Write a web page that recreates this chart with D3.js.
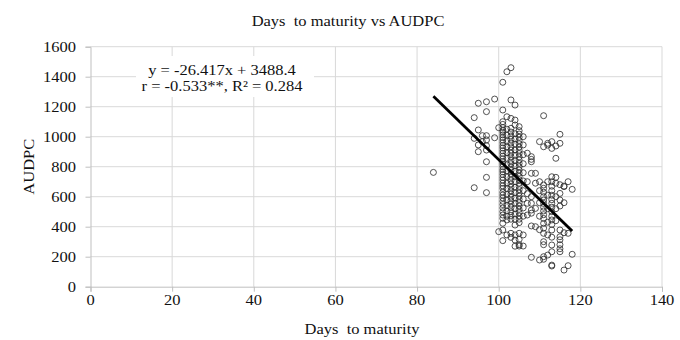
<!DOCTYPE html>
<html>
<head>
<meta charset="utf-8">
<script src="https://cdn.jsdelivr.net/npm/d3@7"></script>
<style>
  body { margin: 0; background: #fff; }
  text { font-family: "Liberation Serif", "Times New Roman", serif; fill: #111; }
</style>
</head>
<body>
<svg id="chart" width="680" height="340"></svg>
<script>
// data: days to maturity and the AUDPC values seen at each day
var maturityDays = [84, 94, 95, 96, 97, 99, 100, 101, 102, 103, 104, 105, 106, 107, 108, 109, 110, 111, 112, 113, 114, 115, 116, 117, 118]
var audpcByDay = [
  [762],
  [1127, 989, 660],
  [1223, 1045, 945, 900],
  [1007, 967],
  [1233, 1167, 1007, 978, 940, 911, 833, 729, 627],
  [1251, 993],
  [1060, 367],
  [1363, 1178, 1100, 1082, 1061, 1043, 1030, 1012, 995, 978, 960, 941, 925, 906, 889, 870, 852, 834, 818, 800, 781, 766, 748, 729, 711, 690, 672, 655, 630, 611, 592, 570, 548, 525, 500, 478, 456, 423, 378, 307],
  [1433, 1133, 1050, 1010, 972, 930, 895, 856, 812, 770, 735, 690, 655, 615, 580, 540, 505, 470, 445, 345],
  [1460, 1245, 1122, 1056, 1031, 1005, 982, 958, 933, 911, 890, 866, 842, 820, 797, 775, 752, 730, 707, 685, 663, 640, 618, 596, 573, 550, 528, 500, 475, 450, 356, 329],
  [1211, 1111, 1078, 1020, 985, 950, 912, 876, 840, 806, 770, 735, 700, 662, 628, 590, 556, 520, 485, 450, 411, 345, 311, 270],
  [1067, 1040, 1018, 996, 975, 953, 931, 910, 888, 866, 845, 822, 800, 778, 757, 735, 713, 690, 669, 647, 625, 603, 582, 560, 538, 516, 494, 472, 450, 427, 356, 315, 280, 271],
  [1000, 945, 880, 820, 760, 705, 640, 585, 525, 470, 345, 271],
  [890, 700, 620, 556, 478],
  [867, 849, 833, 756, 600, 556, 511, 490, 405, 196],
  [756, 690, 522, 400],
  [967, 700, 640, 560, 470, 380, 178],
  [1140, 933, 678, 656, 630, 600, 578, 555, 530, 505, 480, 455, 422, 390, 356, 300, 280, 200, 183],
  [956, 944, 700, 610, 520, 430, 345, 211],
  [967, 922, 733, 700, 670, 640, 610, 580, 556, 530, 500, 470, 445, 415, 378, 330, 278, 233, 144, 138],
  [938, 856, 729, 690, 600, 520, 440],
  [1016, 956, 680, 622, 578, 538, 378, 333, 313, 280, 253, 233],
  [671, 667, 560, 360, 111],
  [700, 356, 140],
  [649, 216]
]
var xTicks = [0, 20, 40, 60, 80, 100, 120, 140]
var yTicks = [0, 200, 400, 600, 800, 1000, 1200, 1400, 1600]
var trendSlope = -26.417
var trendIntercept = 3488.4
var trendDays = [84, 118]
var eqLines = ['y = -26.417x + 3488.4', 'r = -0.533**, R\u00b2 = 0.284']
var chartTitle = 'Days  to maturity vs AUDPC'
var xTitle = 'Days  to maturity'
var yTitle = 'AUDPC'

var points = []
maturityDays.forEach(function(d, i) {
  audpcByDay[i].forEach(function(v) { points.push({ day: d, audpc: v }) })
})

var svg = d3.select('#chart')
var x = d3.scaleLinear().domain([0, 140]).range([90.5, 662])
var y = d3.scaleLinear().domain([0, 1600]).range([286.7, 46.7])
var stretch = 1.1   // the original text is a bit wider than Times
var fs = 15

function label(g, tx, ty, str, size, anchor, rot) {
  g.append('text')
    .attr('transform', 'translate(' + tx + ',' + ty + ')' + (rot ? ' rotate(' + rot + ')' : '') + ' scale(' + stretch + ',1)')
    .attr('text-anchor', anchor)
    .style('font-size', size + 'px')
    .style('white-space', 'pre')
    .text(str)
}

// gridlines
svg.append('g').selectAll('line.h')
  .data(yTicks.slice(1)).enter().append('line')
  .attr('x1', x(0)).attr('x2', x(140))
  .attr('y1', d => y(d)).attr('y2', d => y(d))
  .attr('stroke', '#d9d9d9').attr('stroke-width', 1)
svg.append('g').selectAll('line.v')
  .data(xTicks.slice(1)).enter().append('line')
  .attr('x1', d => x(d)).attr('x2', d => x(d))
  .attr('y1', y(0)).attr('y2', y(1600))
  .attr('stroke', '#d9d9d9').attr('stroke-width', 1)

// axes
svg.append('g')
  .attr('transform', 'translate(0,' + y(0) + ')')
  .call(d3.axisBottom(x).tickValues(xTicks).tickSize(5).tickFormat(''))
svg.append('g')
  .attr('transform', 'translate(' + x(0) + ',0)')
  .call(d3.axisLeft(y).tickValues(yTicks).tickSize(5).tickFormat(''))
svg.selectAll('.domain, .tick line').attr('stroke', '#bfbfbf')

xTicks.forEach(function(t) { label(svg, x(t), 305, t, fs, 'middle') })
yTicks.forEach(function(t) { label(svg, 76, y(t) + 5, t, fs, 'end') })

// scatter
svg.append('g').selectAll('circle')
  .data(points).enter().append('circle')
  .attr('cx', d => x(d.day))
  .attr('cy', d => y(d.audpc))
  .attr('r', 3)
  .attr('fill', 'none')
  .attr('stroke', '#333')
  .attr('stroke-width', 0.85)

// trend line
svg.append('line')
  .attr('x1', x(trendDays[0])).attr('y1', y(trendSlope * trendDays[0] + trendIntercept))
  .attr('x2', x(trendDays[1])).attr('y2', y(trendSlope * trendDays[1] + trendIntercept))
  .attr('stroke', '#000').attr('stroke-width', 2.8)

// equation label
svg.append('rect')
  .attr('x', 136).attr('y', 56).attr('width', 178).attr('height', 41)
  .attr('fill', '#fff')
label(svg, 222, 74.5, eqLines[0], fs, 'middle')
label(svg, 222, 91, eqLines[1], fs, 'middle')

// titles
label(svg, 348, 26, chartTitle, fs, 'middle')
label(svg, 362, 334, xTitle, fs, 'middle')
label(svg, 34, y(800), yTitle, fs, 'middle', -90)
</script>
</body>
</html>
